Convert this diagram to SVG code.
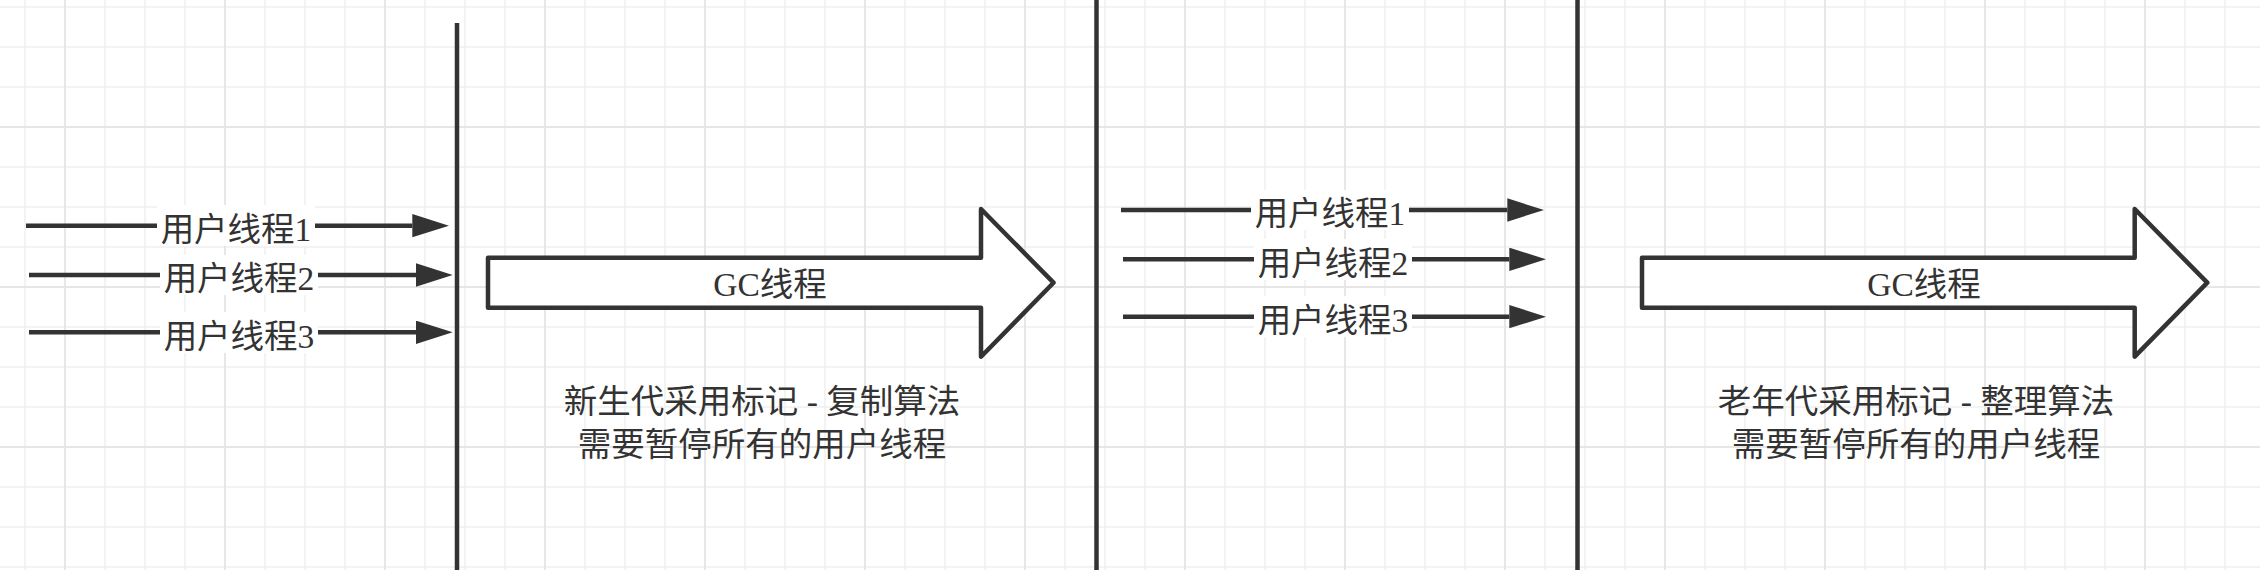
<svg xmlns="http://www.w3.org/2000/svg" width="2260" height="570" viewBox="0 0 2260 570">
  <defs>
    <pattern id="gridMinor" patternUnits="userSpaceOnUse" x="5" y="-13" width="40" height="40">
      <path d="M20 0V40M0 20H40" stroke="#f0f0f0" stroke-width="1.5" fill="none"/>
    </pattern>
    <pattern id="gridMajor" patternUnits="userSpaceOnUse" x="-15" y="47" width="160" height="160">
      <path d="M80 0V160M0 80H160" stroke="#e6e6e6" stroke-width="1.8" fill="none"/>
    </pattern>
    <marker id="head" markerUnits="userSpaceOnUse" markerWidth="38" markerHeight="24" refX="0" refY="11.65" orient="auto">
      <path d="M0,0 L36.7,11.65 L0,23.3 Z" fill="#333333"/>
    </marker>
    <style>
      .bar { stroke: #333333; stroke-width: 4.5; fill: none; }
      .conn { stroke: #333333; stroke-width: 4.5; fill: none; marker-end: url(#head); }
      .lblbg { fill: #ffffff; }
      .txt { font-family: "Liberation Serif", "Noto Sans CJK SC", serif; font-size: 33.5px; fill: #333333; text-anchor: middle; }
      .block { fill: #ffffff; stroke: #333333; stroke-width: 4.5; stroke-linejoin: round; }
    </style>
  </defs>

  <rect x="0" y="0" width="2260" height="570" fill="#ffffff"/>
  <rect x="0" y="0" width="2260" height="570" fill="url(#gridMinor)"/>
  <rect x="0" y="0" width="2260" height="570" fill="url(#gridMajor)"/>

  <g id="barrier1"><line class="bar" x1="457" y1="23" x2="457" y2="570"/></g>
  <g id="barrier2"><line class="bar" x1="1096.5" y1="0" x2="1096.5" y2="570"/></g>
  <g id="barrier3"><line class="bar" x1="1577.5" y1="0" x2="1577.5" y2="570"/></g>

  <g id="gc-arrow-1">
    <polygon class="block" points="488,257.7 981,257.7 981,209 1053.5,282.7 981,356.7 981,307.7 488,307.7"/>
    <text class="txt" x="770" y="295.5">GC线程</text>
  </g>
  <g id="gc-arrow-2">
    <polygon class="block" points="1642,257.7 2134.7,257.7 2134.7,209 2207.3,282.7 2134.7,356.7 2134.7,307.7 1642,307.7"/>
    <text class="txt" x="1924" y="295.5">GC线程</text>
  </g>

  <g id="desc-young">
    <text class="txt" x="762" y="412.7">新生代采用标记 - 复制算法</text>
    <text class="txt" x="762" y="455.7">需要暂停所有的用户线程</text>
  </g>
  <g id="desc-old">
    <text class="txt" x="1916" y="412.7">老年代采用标记 - 整理算法</text>
    <text class="txt" x="1916" y="455.7">需要暂停所有的用户线程</text>
  </g>

  <g id="connectors">
    <g id="c1-1">
      <line class="conn" x1="26" y1="225.7" x2="412.3" y2="225.7"/>
      <rect class="lblbg" x="157" y="205" width="158" height="41"/>
      <text class="txt" x="236" y="241">用户线程1</text>
    </g>
    <g id="c1-2">
      <line class="conn" x1="29" y1="275" x2="416" y2="275"/>
      <rect class="lblbg" x="160" y="255" width="158" height="40"/>
      <text class="txt" x="239" y="290">用户线程2</text>
    </g>
    <g id="c1-3">
      <line class="conn" x1="29" y1="332.3" x2="416" y2="332.3"/>
      <rect class="lblbg" x="160" y="312" width="158" height="41"/>
      <text class="txt" x="239" y="347.5">用户线程3</text>
    </g>
    <g id="c2-1">
      <line class="conn" x1="1121" y1="210" x2="1507.3" y2="210"/>
      <rect class="lblbg" x="1251" y="190" width="158" height="40"/>
      <text class="txt" x="1330" y="225">用户线程1</text>
    </g>
    <g id="c2-2">
      <line class="conn" x1="1123" y1="259.3" x2="1509.3" y2="259.3"/>
      <rect class="lblbg" x="1254" y="239" width="158" height="41"/>
      <text class="txt" x="1333" y="275">用户线程2</text>
    </g>
    <g id="c2-3">
      <line class="conn" x1="1123" y1="316.7" x2="1509.3" y2="316.7"/>
      <rect class="lblbg" x="1254" y="296" width="158" height="41"/>
      <text class="txt" x="1333" y="332">用户线程3</text>
    </g>
  </g>
</svg>
